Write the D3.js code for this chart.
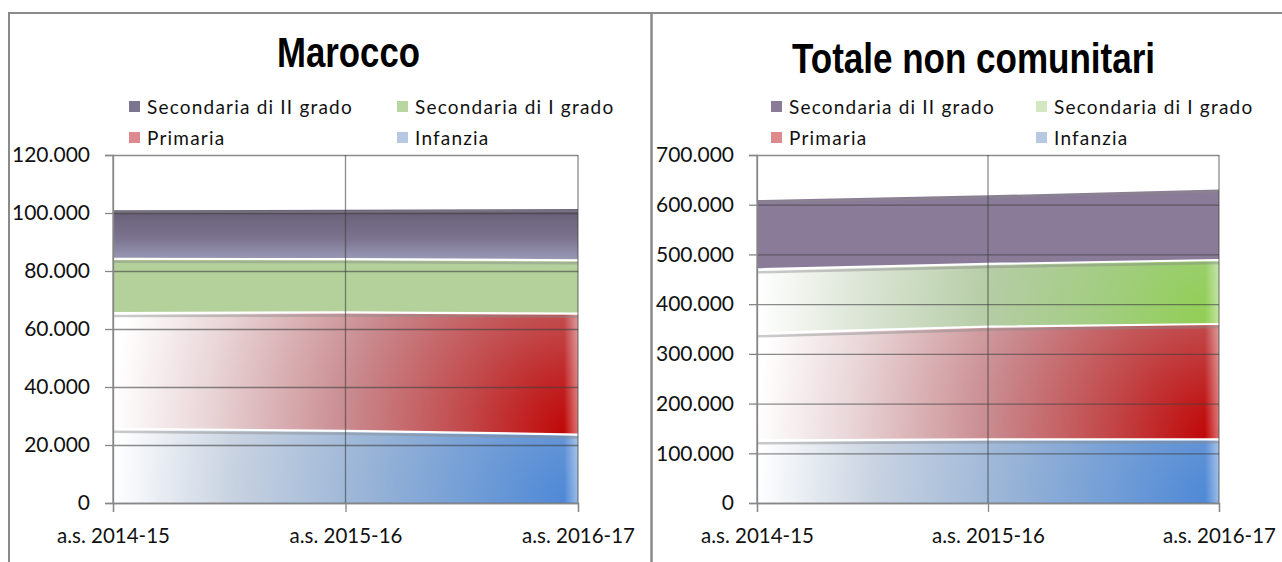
<!DOCTYPE html>
<html>
<head>
<meta charset="utf-8">
<script src="https://cdn.jsdelivr.net/npm/d3@7"></script>
<style>
  body { margin: 0; background: #fff; }
  svg { display: block; }
</style>
</head>
<body>
<div id="output"></div>
<script>
// categories and series (bottom to top of the stack)
const categories = ["a.s. 2014-15", "a.s. 2015-16", "a.s. 2016-17"];
const seriesNames = ["Infanzia", "Primaria", "Secondaria di I grado", "Secondaria di II grado"];

// Marocco
const maroccoInfanzia = [25600, 24900, 23600];
const maroccoPrimaria = [39900, 40800, 41700];
const maroccoSecI = [18700, 18400, 18400];
const maroccoSecII = [17100, 17400, 18100];
const maroccoTicks = [0, 20000, 40000, 60000, 80000, 100000, 120000];

// Totale non comunitari
const totaleInfanzia = [126000, 128000, 128000];
const totalePrimaria = [215400, 226700, 232100];
const totaleSecI = [128700, 126100, 128700];
const totaleSecII = [141400, 140200, 144200];
const totaleTicks = [0, 100000, 200000, 300000, 400000, 500000, 600000, 700000];

// legend order as in the picture
const legendOrder = ["Secondaria di II grado", "Secondaria di I grado", "Primaria", "Infanzia"];

const it = d3.formatLocale({ decimal: ",", thousands: ".", grouping: [3], currency: ["€", ""] });
const fmt = it.format(",d");

const W = 1282, H = 562;
const svg = d3.select("#output").append("svg").attr("width", W).attr("height", H);
const defs = svg.append("defs");

const FONT = "Lato, 'Open Sans', sans-serif";
const GRID = "#404040";

// fill styles
const blueStops = [[0, "#4a86d6"], [0.45, "#98b3d6"], [0.75, "#c9d3e1"], [1, "#ffffff"]];
const redStops = [[0, "#c00000"], [0.25, "#c24a4c"], [0.5, "#c98b90"], [0.8, "#e9d6d8"], [1, "#ffffff"]];
const greenStops = [[0, "#8fcf4f"], [0.25, "#a2cd80"], [0.5, "#b5cca5"], [0.8, "#dfe7da"], [1, "#ffffff"]];

function drawChart(cfg) {
  const id = cfg.id;
  const g = svg.append("g");
  const yBottom = 503, yTop = 155;

  const x = d3.scalePoint().domain(categories).range([cfg.x0, cfg.x1]);
  const y = d3.scaleLinear().domain([0, d3.max(cfg.ticks)]).range([yBottom, yTop]);

  const rows = categories.map((c, i) => {
    const r = { cat: c };
    seriesNames.forEach((s, k) => (r[s] = cfg.values[k][i]));
    return r;
  });
  const stacked = d3.stack().keys(seriesNames)(rows);

  const area = d3.area()
    .x((d) => x(d.data.cat))
    .y0((d) => y(d[0]))
    .y1((d) => y(d[1]));
  const topLine = d3.line()
    .x((d) => x(d.data.cat))
    .y((d) => y(d[1]));

  // build gradients
  const fillFor = stacked.map((s, k) => {
    const f = cfg.fills[k];
    const gid = `${id}-g${k}`;
    if (f.type === "solid") return f.color;
    if (f.type === "vertical") {
      const lg = defs.append("linearGradient").attr("id", gid)
        .attr("gradientUnits", "userSpaceOnUse")
        .attr("x1", 0).attr("x2", 0)
        .attr("y1", y(d3.max(s, (d) => d[1])))
        .attr("y2", y(d3.min(s, (d) => d[0])));
      f.stops.forEach(([o, c]) => lg.append("stop").attr("offset", o).attr("stop-color", c));
      return `url(#${gid})`;
    }
    // radial, centred at the bottom right corner of the band
    const rg = defs.append("radialGradient").attr("id", gid)
      .attr("gradientUnits", "userSpaceOnUse")
      .attr("cx", cfg.x1).attr("cy", y(s[s.length - 1][0]))
      .attr("r", (cfg.x1 - cfg.x0) * 1.0);
    f.stops.forEach(([o, c]) => rg.append("stop").attr("offset", o).attr("stop-color", c));
    return `url(#${gid})`;
  });

  // soft white edge on the right of the gradient bands
  const fade = defs.append("linearGradient").attr("id", `${id}-fade`)
    .attr("gradientUnits", "userSpaceOnUse")
    .attr("x1", cfg.x1 - 14).attr("x2", cfg.x1).attr("y1", 0).attr("y2", 0);
  fade.append("stop").attr("offset", 0).attr("stop-color", "#fff").attr("stop-opacity", 0);
  fade.append("stop").attr("offset", 1).attr("stop-color", "#fff").attr("stop-opacity", 0.45);

  g.append("g").selectAll("path")
    .data(stacked)
    .join("path")
    .attr("d", area)
    .attr("fill", (d, i) => fillFor[i]);

  g.append("g").selectAll("path")
    .data(stacked.filter((s, k) => cfg.fills[k].type === "radial"))
    .join("path")
    .attr("d", area)
    .attr("fill", `url(#${id}-fade)`);

  // shadow + white edge on top of each band
  g.append("g").selectAll("path")
    .data(stacked)
    .join("path")
    .attr("d", topLine)
    .attr("transform", "translate(0,3)")
    .attr("fill", "none")
    .attr("stroke", "#8a8a8a")
    .attr("stroke-opacity", 0.45)
    .attr("stroke-width", 2.5);
  g.append("g").selectAll("path")
    .data(stacked)
    .join("path")
    .attr("d", topLine)
    .attr("fill", "none")
    .attr("stroke", "#fff")
    .attr("stroke-width", 2.2);

  // horizontal gridlines
  g.append("g")
    .attr("transform", `translate(${cfg.x0},0)`)
    .call(d3.axisLeft(y).tickValues(cfg.ticks).tickSize(-(cfg.x1 - cfg.x0)).tickFormat(""))
    .call((a) => a.select(".domain").remove())
    .call((a) => a.selectAll("line").attr("stroke", GRID).attr("stroke-opacity", 0.6).attr("stroke-width", 1.3));

  // vertical gridlines at every category
  g.append("g").selectAll("line")
    .data(categories)
    .join("line")
    .attr("x1", (d) => x(d)).attr("x2", (d) => x(d))
    .attr("y1", yTop).attr("y2", yBottom)
    .attr("stroke", GRID).attr("stroke-opacity", 0.6).attr("stroke-width", 1.3);

  // y axis
  g.append("g")
    .attr("transform", `translate(${cfg.x0},0)`)
    .call(d3.axisLeft(y).tickValues(cfg.ticks).tickSize(8).tickPadding(15).tickFormat(fmt))
    .call((a) => a.select(".domain").attr("stroke", "#868686").attr("stroke-width", 1.3))
    .call((a) => a.selectAll("line").attr("stroke", "#868686").attr("stroke-width", 1.3))
    .call((a) => a.selectAll("text").attr("font-family", FONT).attr("font-size", 21).attr("fill", "#111"));

  // x axis
  g.append("g")
    .attr("transform", `translate(0,${yBottom})`)
    .call(d3.axisBottom(x).tickSize(9).tickFormat((d) => d))
    .call((a) => a.select(".domain").attr("stroke", "#868686").attr("stroke-width", 1.3))
    .call((a) => a.selectAll("line").attr("stroke", "#868686").attr("stroke-width", 1.3))
    .call((a) => a.selectAll("text").attr("y", 40).attr("dy", 0)
      .attr("font-family", FONT).attr("font-size", 20.5).attr("fill", "#111"));

  // title
  g.append("text")
    .attr("x", cfg.titleX).attr("y", cfg.titleY)
    .attr("text-anchor", "middle")
    .attr("font-family", "'Liberation Sans', Arial, sans-serif")
    .attr("font-weight", "bold")
    .attr("font-size", 43)
    .attr("textLength", cfg.titleW)
    .attr("lengthAdjust", "spacingAndGlyphs")
    .text(cfg.title);

  // legend
  const leg = g.append("g").selectAll("g")
    .data(legendOrder)
    .join("g")
    .attr("transform", (d, i) => `translate(${cfg.legX[i % 2]},${cfg.legY[Math.floor(i / 2)]})`);
  leg.append("rect")
    .attr("x", 0).attr("y", -6).attr("width", 11).attr("height", 11)
    .attr("fill", (d) => cfg.swatch[d]);
  leg.append("text")
    .attr("x", 18).attr("dy", "0.35em")
    .attr("font-family", FONT).attr("font-size", 19).attr("fill", "#111")
    .attr("letter-spacing", 1.2)
    .text((d) => d);
}

drawChart({
  id: "mar",
  title: "Marocco", titleX: 348.5, titleY: 67, titleW: 143,
  x0: 113, x1: 578,
  ticks: maroccoTicks,
  values: [maroccoInfanzia, maroccoPrimaria, maroccoSecI, maroccoSecII],
  fills: [
    { type: "radial", stops: blueStops },
    { type: "radial", stops: redStops },
    { type: "solid", color: "#b5d19b" },
    { type: "vertical", stops: [[0, "#665b74"], [0.6, "#7c7590"], [1, "#9a9ab7"]] }
  ],
  legX: [129, 397], legY: [107, 138],
  swatch: {
    "Secondaria di II grado": "#7b7590",
    "Secondaria di I grado": "#b9d6a0",
    "Primaria": "#dc8a8e",
    "Infanzia": "#b7c9e2"
  }
});

drawChart({
  id: "tot",
  title: "Totale non comunitari", titleX: 973.5, titleY: 73, titleW: 363,
  x0: 757, x1: 1219,
  ticks: totaleTicks,
  values: [totaleInfanzia, totalePrimaria, totaleSecI, totaleSecII],
  fills: [
    { type: "radial", stops: blueStops },
    { type: "radial", stops: redStops },
    { type: "radial", stops: greenStops },
    { type: "solid", color: "#8a7b98" }
  ],
  legX: [771, 1036], legY: [107, 138],
  swatch: {
    "Secondaria di II grado": "#8a7b98",
    "Secondaria di I grado": "#d3e8c2",
    "Primaria": "#dc8a8e",
    "Infanzia": "#b7c9e2"
  }
});

// panel frames
const frame = svg.append("g").attr("fill", "none").attr("stroke", "#8a8a8a");
frame.append("path").attr("d", `M9,${H} V13 H${W}`).attr("stroke-width", 2);
frame.append("path").attr("d", `M651.5,13 V${H}`).attr("stroke-width", 2.5);
</script>
</body>
</html>
